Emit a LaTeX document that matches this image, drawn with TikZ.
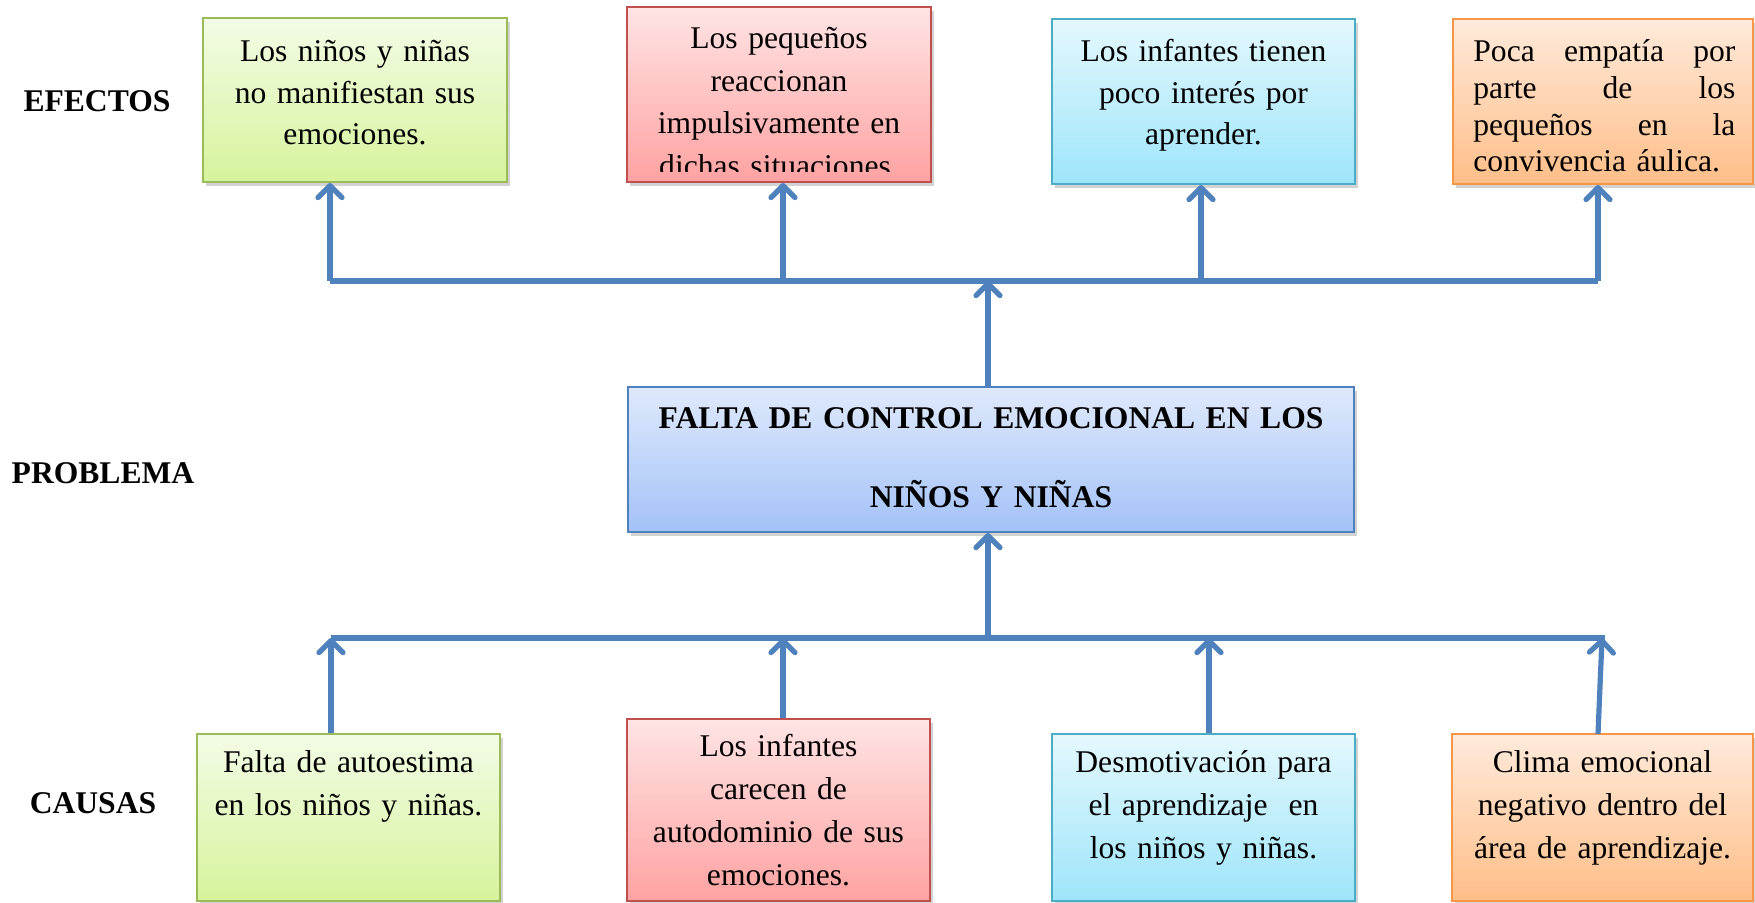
\documentclass[tikz,border=0pt]{standalone}
\usepackage{fontspec}
\setmainfont{Liberation Serif}
\usetikzlibrary{arrows.meta,shadows}
\definecolor{lineblue}{HTML}{4F81BD}
\definecolor{gbord}{HTML}{9BBB59}\definecolor{gtop}{HTML}{F3FCE6}\definecolor{gbot}{HTML}{D6F39C}
\definecolor{rbord}{HTML}{C0504D}\definecolor{rtop}{HTML}{FFE4E4}\definecolor{rbot}{HTML}{FFA2A2}
\definecolor{cbord}{HTML}{4BACC6}\definecolor{ctop}{HTML}{E4F8FD}\definecolor{cbot}{HTML}{9EE5FA}
\definecolor{obord}{HTML}{F79646}\definecolor{otop}{HTML}{FFEADB}\definecolor{obot}{HTML}{FFBE88}
\definecolor{bbord}{HTML}{4F81BD}\definecolor{btop}{HTML}{DFE9FC}\definecolor{bbot}{HTML}{A3C2F8}
\tikzset{
  boxbase/.style={rectangle, line width=1pt, inner sep=0pt,
    drop shadow={shadow xshift=1.5pt, shadow yshift=-2pt, opacity=0.25, fill=black!70}},
  gbox/.style={boxbase, draw=gbord, top color=gtop, bottom color=gbot},
  rbox/.style={boxbase, draw=rbord, top color=rtop, bottom color=rbot},
  cbox/.style={boxbase, draw=cbord, top color=ctop, bottom color=cbot},
  obox/.style={boxbase, draw=obord, top color=otop, bottom color=obot},
  bbox/.style={boxbase, draw=bbord, top color=btop, bottom color=bbot},
  txt/.style={anchor=base, align=center, text width=#1, inner sep=0pt},
  txt/.default=150pt,
  lbl/.style={anchor=base, inner sep=0pt, font=\fontsize{15.8pt}{19pt}\selectfont\bfseries},
  bar/.style={draw=lineblue, line width=2.6pt, line cap=butt},
  arr/.style={draw=lineblue, line width=2.6pt,
    -{Straight Barb[length=6pt,width=12pt,line cap=round,line join=round]}},
}
\begin{document}
\begin{tikzpicture}[x=0.5pt,y=-0.5pt]
\clip (0,0) rectangle (1755,903);
\fill[white] (0,0) rectangle (1755,903);

% labels
\node[lbl] (lef) at (97,112) {EFECTOS};
\node[lbl] (lpr) at (103,483) {PROBLEMA};
\node[lbl] (lca) at (93,813) {CAUSAS};

% top boxes (effects)
\node[gbox, minimum width=152pt, minimum height=82pt] (T1) at (355,100) {};
\node[rbox, minimum width=152pt, minimum height=87.5pt] (T2) at (779,94.5) {};
\node[cbox, minimum width=151.5pt, minimum height=82.5pt] (T3) at (1203.5,101.5) {};
\node[obox, minimum width=150pt, minimum height=82.5pt] (T4) at (1603,101.5) {};

\node[txt, font=\fontsize{15.8pt}{20.75pt}\selectfont] (T1t) at (355,62)
  {Los niños y niñas\\no manifiestan sus\\emociones.};
\begin{scope}
  \clip (630,10) rectangle (928,172);
  \node[txt, font=\fontsize{15.8pt}{21.25pt}\selectfont] (T2t) at (779,49)
    {Los pequeños\\reaccionan\\impulsivamente en\\dichas situaciones.};
\end{scope}
\node[txt, font=\fontsize{15.8pt}{20.75pt}\selectfont] (T3t) at (1203.5,62)
  {Los infantes tienen\\poco interés por\\aprender.};
\node[anchor=base west, text width=131pt, inner sep=0pt,
  font=\fontsize{15.8pt}{18.3pt}\selectfont] (T4t) at (1473,62)
  {\hbox to \linewidth{Poca\hfill empatía\hfill por}
   \hbox to \linewidth{parte\hfill de\hfill los}
   \hbox to \linewidth{pequeños\hfill en\hfill la}
   \hbox to \linewidth{convivencia áulica.\hfill}};

% central problem
\node[bbox, minimum width=363pt, minimum height=72.5pt] (C) at (991,459.5) {};
\node[txt=360pt, font=\fontsize{15.8pt}{39.5pt}\selectfont\bfseries] (Ct) at (991,429)
  {FALTA DE CONTROL EMOCIONAL EN LOS\\NIÑOS Y NIÑAS};

% bottom boxes (causes)
\node[gbox, minimum width=151.5pt, minimum height=83.5pt] (B1) at (348.5,817.5) {};
\node[rbox, minimum width=151.5pt, minimum height=91pt] (B2) at (778.5,810) {};
\node[cbox, minimum width=151.5pt, minimum height=83.5pt] (B3) at (1203.5,817.5) {};
\node[obox, minimum width=150.5pt, minimum height=83.5pt] (B4) at (1602.5,817.5) {};

\node[txt, font=\fontsize{15.8pt}{21.5pt}\selectfont] (B1t) at (348.5,772)
  {Falta de autoestima\\en los niños y niñas.};
\node[txt, font=\fontsize{15.8pt}{21.5pt}\selectfont] (B2t) at (778.5,756)
  {Los infantes\\carecen de\\autodominio de sus\\emociones.};
\node[txt, font=\fontsize{15.8pt}{21.5pt}\selectfont] (B3t) at (1203.5,772)
  {Desmotivación para\\el aprendizaje~ en\\los niños y niñas.};
\node[txt, font=\fontsize{15.8pt}{21.5pt}\selectfont] (B4t) at (1602.5,772)
  {Clima emocional\\negativo dentro del\\área de aprendizaje.};

% top connectors
\coordinate (tb1) at (330,281);
\coordinate (tb2) at (783,281);
\coordinate (tbc) at (988,281);
\coordinate (tb3) at (1201,281);
\coordinate (tb4) at (1598,281);
\draw[bar] (tb1) -- (tb4);
\draw[arr] (tb1) -- (tb1 |- T1.south);
\draw[arr] (tb2) -- (tb2 |- T2.south);
\draw[arr] (tb3) -- (tb3 |- T3.south);
\draw[arr] (tb4) -- (tb4 |- T4.south);
\draw[arr] (tbc |- C.north) -- (tbc);

% bottom connectors
\coordinate (bb1) at (331,638);
\coordinate (bb2) at (783,638);
\coordinate (bbc) at (988,638);
\coordinate (bb3) at (1209,638);
\coordinate (bb4) at (1602,638);
\coordinate (bbe) at (1605,638);
\coordinate (b4f) at (1598,734);
\draw[bar] (bb1) -- (bbe);
\draw[arr] (bb1 |- B1.north) -- (bb1);
\draw[arr] (bb2 |- B2.north) -- (bb2);
\draw[arr] (bb3 |- B3.north) -- (bb3);
\draw[arr] (b4f) -- (bb4);
\draw[arr] (bbc) -- (bbc |- C.south);
\end{tikzpicture}
\end{document}
